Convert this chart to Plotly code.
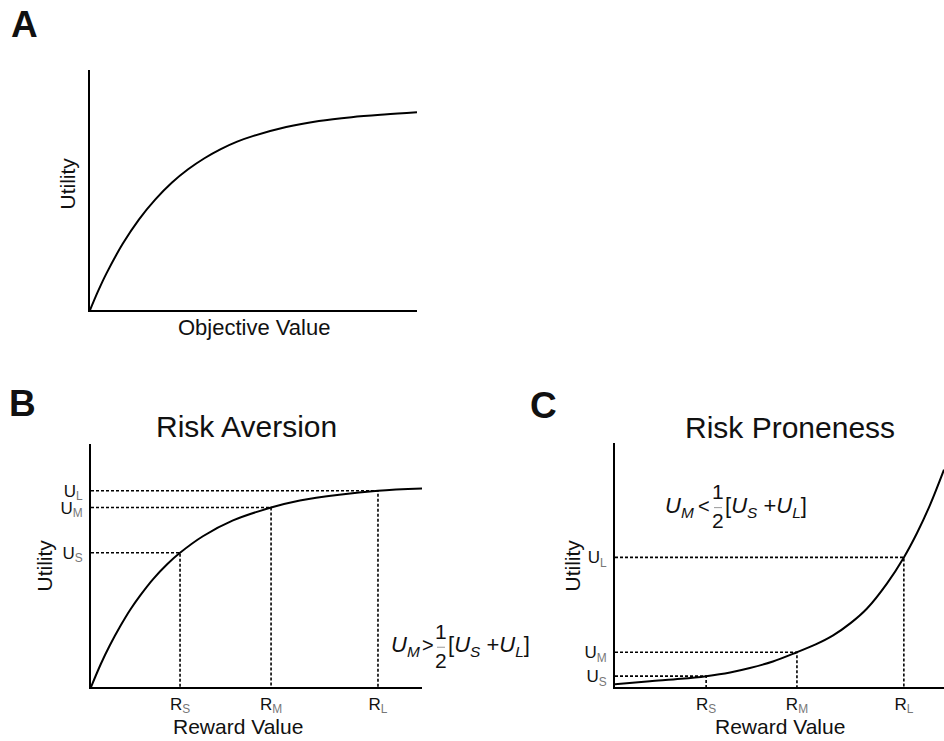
import plotly.graph_objects as go

W, H = 944, 741
FONT = "Liberation Sans, Arial, sans-serif"
INK = "#111111"

# Panel A: diminishing-returns utility of objective value
a_value = [0, 0.025, 0.05, 0.1, 0.15, 0.2, 0.25, 0.3, 0.35, 0.4, 0.45, 0.5, 0.6, 0.7, 0.8, 0.9, 1.0]
a_utility = [0, 0.08, 0.152, 0.276, 0.378, 0.461, 0.53, 0.586, 0.632, 0.67, 0.701, 0.725,
             0.762, 0.787, 0.803, 0.814, 0.823]

# Panel B: risk aversion (concave utility)
b_reward = [0, 0.03, 0.057, 0.09, 0.118, 0.15, 0.187, 0.23, 0.269, 0.338, 0.429, 0.544,
            0.631, 0.75, 0.867, 1.0]
b_utility = [0, 0.096, 0.172, 0.254, 0.317, 0.379, 0.443, 0.505, 0.552, 0.62, 0.685, 0.738,
             0.767, 0.791, 0.807, 0.816]
b_r_marks = [0.269, 0.544, 0.867]
b_u_marks = [0.552, 0.738, 0.807]

# Panel C: risk proneness (convex utility)
c_reward = [0, 0.106, 0.2, 0.277, 0.35, 0.41, 0.48, 0.553, 0.61, 0.663, 0.716, 0.766, 0.827,
            0.878, 0.918, 0.957, 1.0]
c_utility = [0.012, 0.024, 0.034, 0.045, 0.06, 0.078, 0.105, 0.143, 0.175, 0.212, 0.262, 0.322,
             0.425, 0.531, 0.631, 0.744, 0.89]
c_r_marks = [0.277, 0.553, 0.878]
c_u_marks = [0.045, 0.143, 0.531]

SUB = "<sub><span style='color:#777'>{}</span></sub>"
r_labels = ["R" + SUB.format(s) for s in ("S", "M", "L")]
u_labels = ["U" + SUB.format(s) for s in ("S", "M", "L")]


def px(x):
    return x / W


def py(y):
    return 1 - y / H


fig = go.Figure()

curve = dict(mode="lines", line=dict(color="black", width=2, shape="spline", smoothing=1.0),
             hoverinfo="skip", showlegend=False)
guide = dict(mode="lines", line=dict(color="black", width=1.6, dash="3px,2px"),
             hoverinfo="skip", showlegend=False)

fig.add_trace(go.Scatter(x=a_value, y=a_utility, xaxis="x", yaxis="y", **curve))

for r, u in zip(b_r_marks, b_u_marks):
    fig.add_trace(go.Scatter(x=[0, r, r], y=[u, u, 0], xaxis="x2", yaxis="y2", **guide))
fig.add_trace(go.Scatter(x=b_reward, y=b_utility, xaxis="x2", yaxis="y2", **curve))

for r, u in zip(c_r_marks, c_u_marks):
    fig.add_trace(go.Scatter(x=[0, r, r], y=[u, u, 0], xaxis="x3", yaxis="y3", **guide))
fig.add_trace(go.Scatter(x=c_reward, y=c_utility, xaxis="x3", yaxis="y3", **curve))

axis_common = dict(showgrid=False, zeroline=False, showline=True, linecolor="black",
                   linewidth=2, range=[0, 1], fixedrange=True, ticks="",
                   tickfont=dict(family=FONT, size=17, color=INK))

fig.update_layout(
    width=W, height=H,
    margin=dict(l=0, r=0, t=0, b=0),
    paper_bgcolor="white", plot_bgcolor="white",
    xaxis=dict(domain=[px(90), px(417)], anchor="y", showticklabels=False, **axis_common),
    yaxis=dict(domain=[py(311), py(70)], anchor="x", showticklabels=False, **axis_common),
    xaxis2=dict(domain=[px(91), px(422)], anchor="y2", tickvals=b_r_marks, ticktext=r_labels,
                ticklabelstandoff=0, **axis_common),
    yaxis2=dict(domain=[py(689), py(445)], anchor="x2", tickvals=b_u_marks, ticktext=u_labels,
                ticklabelstandoff=3, **axis_common),
    xaxis3=dict(domain=[px(615), 1.0], anchor="y3", tickvals=c_r_marks, ticktext=r_labels,
                ticklabelstandoff=0, **axis_common),
    yaxis3=dict(domain=[py(689), py(444)], anchor="x3", tickvals=c_u_marks, ticktext=u_labels,
                ticklabelstandoff=3, **axis_common),
)


def text(x, y, s, size, xanchor="center", yanchor="middle", angle=0, bold=False, color=INK):
    fig.add_annotation(x=px(x), y=py(y), xref="paper", yref="paper", text=s,
                       showarrow=False, xanchor=xanchor, yanchor=yanchor, textangle=angle,
                       borderpad=0,
                       font=dict(family=FONT, size=size, color=color,
                                 weight="bold" if bold else "normal"))


# panel letters
text(24, 25, "A", 37, bold=True)
text(22, 405, "B", 37, bold=True)
text(543, 407, "C", 37, bold=True)

# titles
text(246, 428, "Risk Aversion", 30)
text(790, 429, "Risk Proneness", 30)

# axis titles
text(68, 184, "Utility", 21, angle=-90)
text(254, 328, "Objective Value", 22)
text(44, 567, "Utility", 21, angle=-90)
text(238, 741, "Reward Value", 21, yanchor="bottom")
text(572, 567, "Utility", 21, angle=-90)
text(780, 741, "Reward Value", 21, yanchor="bottom")


# inequality statements with a stacked one-half
def inequality(x_u, x_op, x_frac, x_br, yc, op):
    text(x_u, yc, "<i>U<sub>M</sub></i>", 22, xanchor="left")
    text(x_op, yc - 1, op, 20)
    text(x_frac, yc - 15, "1", 21)
    text(x_frac, yc + 14, "2", 21)
    fig.add_shape(type="line", xref="paper", yref="paper",
                  x0=px(x_frac - 4), x1=px(x_frac + 4), y0=py(yc + 1), y1=py(yc + 1),
                  line=dict(color="#999", width=1))
    text(x_br, yc, "[<i>U<sub>S</sub></i> +<i>U<sub>L</sub></i>]", 22, xanchor="left")


inequality(390, 428, 441, 447, 648, "&gt;")
inequality(664, 704, 718, 724, 508, "&lt;")

fig.write_html("out.html")
